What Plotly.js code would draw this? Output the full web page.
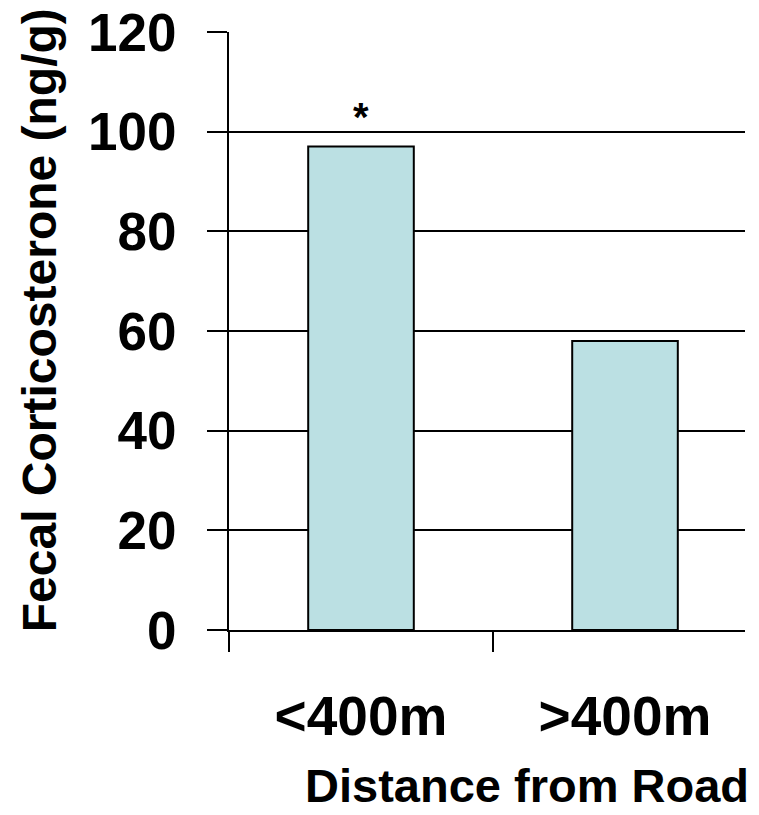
<!DOCTYPE html>
<html>
<head>
<meta charset="utf-8">
<script src="https://cdn.plot.ly/plotly-3.0.1.min.js"></script>
<style>html,body{margin:0;padding:0;background:#fff;}#chart{width:759px;height:815px;}</style>
</head>
<body>
<div id="chart"></div>
<script>
const categories = ['<400m', '>400m'];
const corticosterone = [97, 58];
const yTicks = [0, 20, 40, 60, 80, 100, 120];
const significance = ['*', ''];

const FONT = 'Arial, "Liberation Sans", sans-serif';

const trace = {
  type: 'bar',
  x: categories,
  y: corticosterone,
  width: 0.4,
  marker: { color: '#BBE0E3', line: { color: '#000', width: 2 } },
  hoverinfo: 'x+y'
};

const annotations = [];
categories.forEach((c, i) => {
  if (significance[i]) {
    annotations.push({
      x: c, y: corticosterone[i], xref: 'x', yref: 'y',
      text: '<b>' + significance[i] + '</b>', showarrow: false,
      yanchor: 'bottom', yshift: 6,
      font: { family: FONT, size: 40, color: '#000' }
    });
  }
});
annotations.push({
  xref: 'paper', yref: 'paper', x: 0, y: 0, xshift: 298, yshift: -155,
  xanchor: 'center', yanchor: 'middle', showarrow: false,
  text: '<b>Distance from Road</b>',
  font: { family: FONT, size: 47, color: '#000' }
});
annotations.push({
  xref: 'paper', yref: 'paper', x: 0, y: 0.518, xshift: -190,
  xanchor: 'center', yanchor: 'middle', showarrow: false, textangle: -90,
  text: '<b>Fecal Corticosterone (ng/g)</b>',
  font: { family: FONT, size: 48, color: '#000' }
});

const layout = {
  width: 759, height: 815,
  margin: { l: 229, r: 14, t: 32, b: 185 },
  paper_bgcolor: '#fff', plot_bgcolor: '#fff',
  showlegend: false,
  font: { family: FONT, color: '#000' },
  xaxis: {
    type: 'category',
    range: [-0.5, 1.4545],
    tickson: 'boundaries',
    ticks: 'outside', ticklen: 20, tickwidth: 2, tickcolor: '#000',
    showline: true, linecolor: '#000', linewidth: 2,
    showgrid: false, zeroline: false,
    ticklabelstandoff: 37,
    tickfont: { family: FONT, size: 55, color: '#000', weight: 'bold' },
    fixedrange: true
  },
  yaxis: {
    range: [0, 120],
    tickvals: yTicks,
    ticktext: yTicks.map(String),
    ticks: 'outside', ticklen: 20, tickwidth: 2, tickcolor: '#000',
    showline: true, linecolor: '#000', linewidth: 2,
    showgrid: true, gridcolor: '#000', gridwidth: 2,
    zeroline: false,
    ticklabelstandoff: 20,
    tickfont: { family: FONT, size: 53, color: '#000', weight: 'bold' },
    fixedrange: true
  },
  annotations: annotations
};

Plotly.newPlot('chart', [trace], layout, { displayModeBar: false, staticPlot: true });
</script>
</body>
</html>
